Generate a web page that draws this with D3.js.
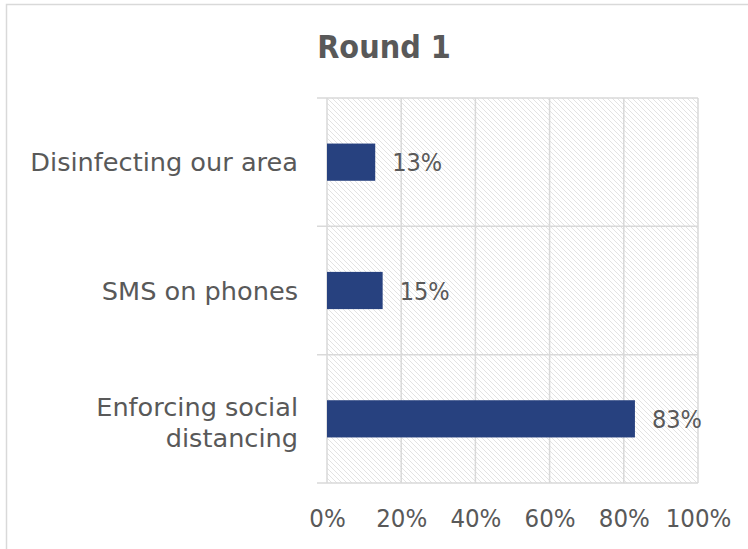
<!DOCTYPE html>
<html>
<head>
<meta charset="utf-8">
<script src="https://cdn.jsdelivr.net/npm/d3@7"></script>
<style>
  html, body { margin: 0; padding: 0; background: #ffffff; }
  svg { display: block; }
  text { fill: #595959; }
  .num { font-family: "DejaVu Sans Condensed", "DejaVu Sans", sans-serif; }
  .lbl { font-family: "DejaVu Sans", sans-serif; }
</style>
</head>
<body>
<svg id="chart" width="748" height="549"></svg>
<script>
// Survey responses, Round 1
const categories = [
  ["Disinfecting our area"],
  ["SMS on phones"],
  ["Enforcing social", "distancing"]
];
const values = [13, 15, 83];
const tickValues = [0, 20, 40, 60, 80, 100];
const title = "Round 1";

const svg = d3.select("#chart");
const W = 748, H = 549;
const margin = { top: 98, right: 50, bottom: 66, left: 327 };
const plotW = W - margin.left - margin.right;
const plotH = H - margin.top - margin.bottom;

// Outer chart border
svg.append("rect")
  .attr("x", 6.5).attr("y", 4.5)
  .attr("width", W + 10).attr("height", H + 10)
  .attr("fill", "#ffffff")
  .attr("stroke", "#d9d9d9").attr("stroke-width", 1.5);

// Diagonal hatch used as plot-area fill
const defs = svg.append("defs");
const pat = defs.append("pattern")
  .attr("id", "hatch")
  .attr("patternUnits", "userSpaceOnUse")
  .attr("width", 5).attr("height", 5);
pat.append("rect").attr("width", 5).attr("height", 5).attr("fill", "#ffffff");
pat.append("path")
  .attr("d", "M-1,-1 L6,6 M-1,4 L1,6 M4,-1 L6,1")
  .attr("stroke", "#e3e3e3").attr("stroke-width", 1);

const g = svg.append("g").attr("transform", `translate(${margin.left},${margin.top})`);

const x = d3.scaleLinear().domain([0, 100]).range([0, plotW]);
const y = d3.scaleBand()
  .domain(categories.map((d, i) => i))
  .range([0, plotH])
  .paddingInner(0.71)
  .paddingOuter(0.355);

// Plot background
g.append("rect")
  .attr("x", 0).attr("y", 0)
  .attr("width", plotW).attr("height", plotH)
  .attr("fill", "url(#hatch)");

// Vertical gridlines
g.selectAll(".vgrid")
  .data(tickValues)
  .join("line")
  .attr("x1", d => x(d)).attr("x2", d => x(d))
  .attr("y1", 0).attr("y2", plotH)
  .attr("stroke", "#d9d9d9").attr("stroke-width", 1.5);

// Category separators (with outward ticks)
const step = plotH / categories.length;
const seps = d3.range(categories.length + 1).map(i => i * step);
g.selectAll(".hsep")
  .data(seps)
  .join("line")
  .attr("x1", -10).attr("x2", plotW)
  .attr("y1", d => d).attr("y2", d => d)
  .attr("stroke", "#d9d9d9").attr("stroke-width", 1.5);

// Bars
g.selectAll(".bar")
  .data(values)
  .join("rect")
  .attr("x", x(0))
  .attr("y", (d, i) => y(i))
  .attr("width", d => x(d) - x(0))
  .attr("height", y.bandwidth())
  .attr("fill", "#27417f");

// Value labels
g.selectAll(".val")
  .data(values)
  .join("text")
  .attr("class", "num")
  .attr("x", d => x(d) + 17)
  .attr("y", (d, i) => y(i) + y.bandwidth() / 2)
  .attr("dy", "0.36em")
  .attr("font-size", 25)
  .text(d => d + "%");

// Category labels
const catG = g.selectAll(".cat")
  .data(categories)
  .join("text")
  .attr("class", "lbl")
  .attr("text-anchor", "end")
  .attr("font-size", 25.6)
  .attr("y", (d, i) => y(i) + y.bandwidth() / 2);
catG.selectAll("tspan")
  .data(d => d.map((s, k) => ({ s, k, n: d.length })))
  .join("tspan")
  .attr("x", -29)
  .attr("dy", d => d.k === 0 ? (0.36 - (d.n - 1) * 0.49) + "em" : "1.23em")
  .text(d => d.s);

// Value axis
const xAxis = d3.axisBottom(x)
  .tickValues(tickValues)
  .tickFormat(d => d + "%")
  .tickSize(0)
  .tickPadding(26);
const ax = g.append("g")
  .attr("transform", `translate(0,${plotH})`)
  .call(xAxis);
ax.select(".domain").remove();
ax.selectAll("text")
  .attr("class", "num")
  .attr("font-size", 25.5)
  .attr("fill", "#595959")
  .attr("font-family", null);

// Title
svg.append("text")
  .attr("class", "num")
  .attr("x", 384).attr("y", 58)
  .attr("text-anchor", "middle")
  .attr("font-size", 32)
  .attr("font-weight", "bold")
  .text(title);
</script>
</body>
</html>
